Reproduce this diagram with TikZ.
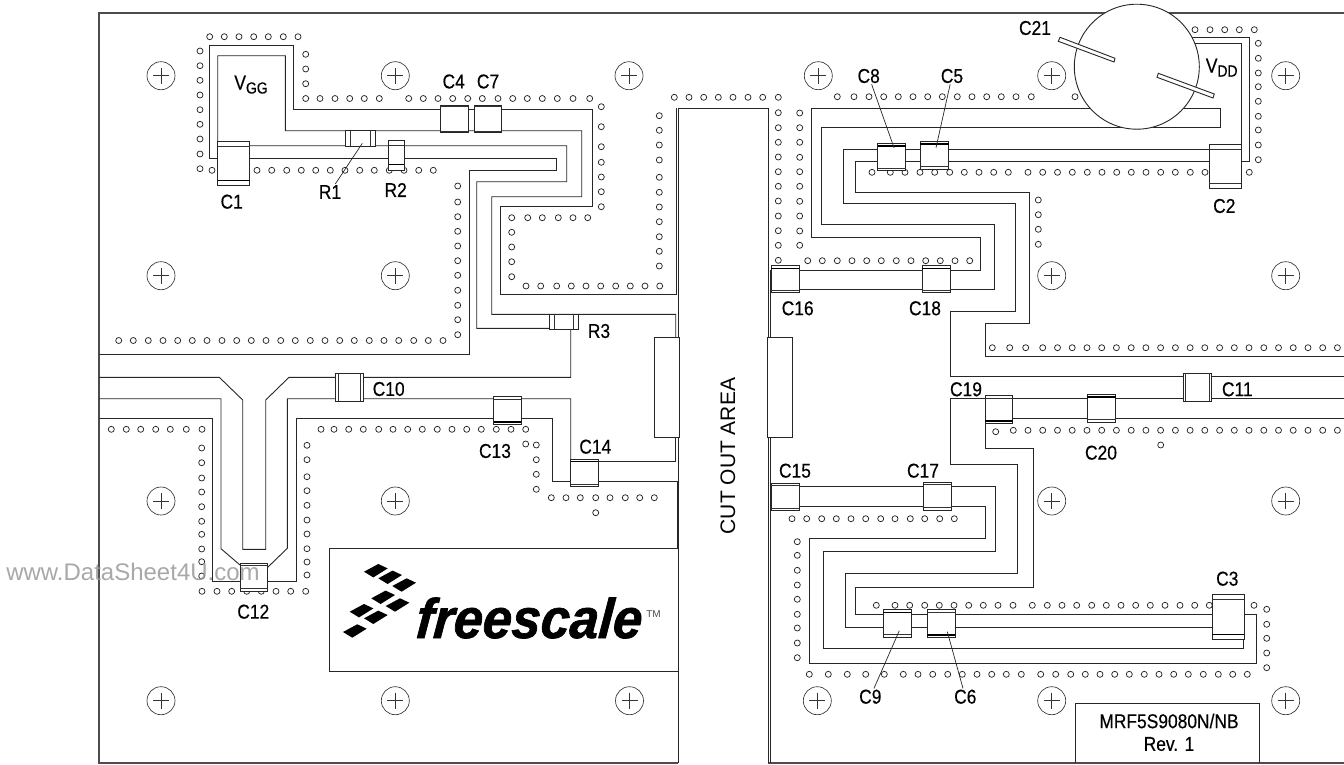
\documentclass[tikz,border=0pt]{standalone}
\usepackage{fontspec}
\setmainfont[FakeStretch=0.87,FakeBold=0.35]{Liberation Sans}
\newfontfamily\widefont{Liberation Sans}
\newfontfamily\logofont[FakeStretch=0.93,FakeBold=1.2,FakeSlant=0.08]{Liberation Sans}
\newcommand{\dotrow}[2]{\foreach \px in {#2} \draw[via] (\px,#1) circle [radius=3pt];}
\newcommand{\dotcol}[2]{\foreach \py in {#2} \draw[via] (#1,\py) circle [radius=3pt];}
\newcommand{\partv}[5]{
    \draw[part] (#1,#2) rectangle (#3,#4);
    \draw[thinbar] (#1,#2+#5) -- (#3,#2+#5);
    \draw[thickbar] (#1,#4-#5) -- (#3,#4-#5);}
\newcommand{\partw}[5]{
    \draw[part] (#1,#2) rectangle (#3,#4);
    \draw[thickbar] (#1,#2+#5) -- (#3,#2+#5);
    \draw[thinbar] (#1,#4-#5) -- (#3,#4-#5);}
\newcommand{\partt}[5]{
    \draw[part] (#1,#2) rectangle (#3,#4);
    \draw[thinbar] (#1,#2+#5) -- (#3,#2+#5);
    \draw[thinbar] (#1,#4-#5) -- (#3,#4-#5);}
\newcommand{\parth}[5]{
    \draw[part] (#1,#2) rectangle (#3,#4);
    \draw[thinbar] (#1+#5,#2) -- (#1+#5,#4);
    \draw[thinbar] (#3-#5,#2) -- (#3-#5,#4);}
\newcommand{\lowtxt}[1]{\raisebox{-4pt}{\fontsize{16}{16}\selectfont #1}}
\begin{document}
\begin{tikzpicture}[x=1pt,y=-1pt,
    trace/.style={draw=black!85,line width=0.9pt,line join=miter},
    edgeline/.style={draw=black!70,line width=1.2pt},
    via/.style={draw=black!85,line width=0.75pt},
    holeline/.style={draw=black!80,line width=0.65pt},
    part/.style={draw=black!85,fill=white,line width=0.9pt},
    thinbar/.style={draw=black!80,line width=0.8pt},
    thickbar/.style={draw=black,line width=1.4pt},
    lbl/.style={inner sep=1pt,font=\fontsize{20}{22}\selectfont}]

    \useasboundingbox (0,0) rectangle (1344,764);

    \foreach \hx/\hy in {161/75.7,395.3/75.7,629/75.7,818.3/75.7,1051.7/75.7,1285.7/75.7,
        161/275.7,395.3/275.7,1051.7/275.7,1285.7/275.7,
        161/501,395.3/501,1051.7/501,1285.7/501,
        161/700.7,395.3/700.7,629.5/700.7,817.3/700.7,1051.7/700.7,1285.7/700.7} {
        \draw[holeline] (\hx,\hy) circle [radius=14pt];
        \draw[holeline] (\hx-8,\hy) -- (\hx+8,\hy);
        \draw[holeline] (\hx,\hy-8) -- (\hx,\hy+8);
    }

    \draw[edgeline] (1344,13) -- (99,13) -- (99,763) -- (678,763);
    \draw[edgeline] (768,763) -- (1344,763);
    \draw[trace] (678,763) -- (678,108) -- (768,108) -- (768,763);
    \draw[trace] (676.2,108) -- (676.2,294);
    \draw[trace] (770.7,270) -- (770.7,763);

    \draw[trace] (677,294.3) -- (500,294.3) -- (500,206.5) -- (592.3,206.5) -- (592.3,109.5) -- (293.7,109.5) -- (293.7,45.7) -- (209.3,45.7) -- (209.3,158.3) -- (556.7,158.3) -- (556.7,170) -- (469,170) -- (469,354.3) -- (99,354.3);
    \draw[trace] (675.7,338) -- (675.7,314.3) -- (491.7,314.3) -- (491.7,196.7) -- (581.7,196.7) -- (581.7,130.7) -- (285.3,130.7) -- (285.3,55.7) -- (217.7,55.7) -- (217.7,145.7) -- (566.7,145.7) -- (566.7,181.7) -- (476.7,181.7) -- (476.7,328.3) -- (570.7,328.3) -- (570.7,377.3) -- (289,377.3) -- (265.7,400) -- (265.7,549.3) -- (242.7,549.3) -- (242.7,400) -- (219.3,377.3) -- (99,377.3);
    \draw[trace] (99,398.7) -- (221,398.7) -- (221,548.7) -- (240,565);
    \draw[trace] (267.7,567.3) -- (287.3,548.3) -- (287.3,398.7) -- (570.7,398.7) -- (570.7,462);
    \draw[trace] (99,418.7) -- (212.3,418.7) -- (212.3,581.3) -- (296.7,581.3) -- (296.7,418.5) -- (552.3,418.5) -- (552.3,481) -- (677.3,481) -- (677.3,548.7) -- (329.5,548.7) -- (329.5,671) -- (678,671);
    \draw[trace] (598,461.7) -- (675.7,461.7) -- (675.7,437);

    \draw[trace] (771,270) -- (980.7,270) -- (980.7,237.3) -- (811,237.3) -- (811,108) -- (1220,108) -- (1220,127.3) -- (821.7,127.3) -- (821.7,224.7) -- (994,224.7) -- (994,289.7) -- (771,289.7);
    \draw[trace] (1130,43.3) -- (1241.3,43.3) -- (1241.3,149) -- (843.3,149) -- (843.3,203.3) -- (1015.7,203.3) -- (1015.7,311) -- (950.7,311) -- (950.7,376.7) -- (1344,376.7);
    \draw[trace] (1130,37.3) -- (1249.3,37.3) -- (1249.3,161.7) -- (855,161.7) -- (855,192.3) -- (1029.3,192.3) -- (1029.3,323.3) -- (985,323.3) -- (985,356.3) -- (1344,356.3);
    \draw[trace] (1344,398.7) -- (950.7,398.7) -- (950.7,464.7) -- (1017.3,464.7) -- (1017.3,573) -- (845,573) -- (845,627.3) -- (1212.3,627.3);
    \draw[trace] (1344,418.3) -- (985,418.3) -- (985,448.3) -- (1033.3,448.3) -- (1033.3,587) -- (855.7,587) -- (855.7,614) -- (1256.7,614) -- (1256.7,663.3) -- (809.3,663.3) -- (809.3,538.3) -- (985,538.3) -- (985,506) -- (771,506);
    \draw[trace] (771,486.3) -- (995.7,486.3) -- (995.7,551.7) -- (823.3,551.7) -- (823.3,648) -- (1243.3,648) -- (1243.3,630);
    \draw[trace] (1075.3,763) -- (1075.3,703.3) -- (1259.3,703.3) -- (1259.3,763);

    \dotrow{36.7}{209.7,224.3,239,253.7,268.3,283.3,298}
    \dotcol{200}{51,65.7,80.3,95,109.7,124.3,139,154,168.7}
    \dotrow{170.3}{212,257,271.7,286.7,301.3,315.7,330.3,345,359.7,374.3,389.3,404,418.7,433.3}
    \dotcol{305.7}{54.3,69,83.7}
    \dotrow{98.5}{305.7,320,335,349.7,364.3,379.3,408.7,423.3,438,452.7,467.7,482.3,498,512.7,527.3,542.3,557.3,573,589.7}
    \dotcol{601.3}{106.7,126.7,146.7,162.3,177,191.7,206.7}
    \dotrow{217.7}{511.7,527.7,542.3,558.3,573,587.7}
    \dotcol{511.7}{232.3,247,261.7,276.7}
    \dotrow{286}{526,540.7,556.7,571.3,586,600.7,615.7,630.3,645,659.7}
    \dotcol{659.3}{115.7,130.3,145,160,177.3,192.3,207,221.7,236.7,251.3,266}
    \dotrow{97.3}{674.3,689,703.7,718.3,733,748,762.7,778.3}
    \dotcol{457.7}{186,202,216.7,231.3,246,260.7,275.3,290.3,305.3,319.7,334.7}
    \dotrow{340.5}{118.7,133.3,148.3,163,177.7,192.3,207,222,236.7,251.3,266,280.7,295.3,310.3,325,339.7,354.3,369.3,384,398.7,413.7,428.3,443}
    \dotrow{429.3}{111.3,126.3,140.7,155.7,170.3,186.3,202,321,334,348.7,363.3,378.7,393,407.7,422.3,437.3,452,466.7,481.3,496.3,511,525.7}
    \dotcol{201.7}{448,462.7,478,492,506.7,521.3,534.3,549,561.7,576}
    \dotrow{591.3}{202,217,231.7,246.7,261.3,276,290.7,305.7}
    \dotcol{307}{445.3,459.7,476.7,490.7,505.3,520,534,548.7,562,575}
    \dotcol{536.3}{445,459.7,474.3,489.3}
    \draw[via] (525.7,444) circle [radius=3pt];
    \dotrow{497.7}{551.3,566,580.3,595.7,610,625.3,639.7,654.3}
    \draw[via] (595.7,512.7) circle [radius=3pt];

    \dotcol{778.3}{112.7,127.7,142.3,157,171.7,186.3,201,216,230.7,245.3,260.3}
    \dotcol{799.7}{113,127.7,142.3,157.3,171.7,186.3,201.3,216,231,245.3}
    \dotrow{260.7}{807.7,822.3,837.3,852,866.7,881.3,896.3,911,925.7,940.3,955,969.7}
    \dotrow{96.7}{837.3,854,869,883.7,898.3,913,927.7,942.3,957.3,972,986.7,1001.3,1016,1031.3}
    \dotrow{172.3}{872,890.3,905,920,934.7,949.7,964.3,979,993.7,1008.3,1028,1042.7,1057.5,1072.3,1087.3,1102,1116.7,1131.3,1146,1160.7,1175.3,1190.3,1205,1249.3}
    \dotcol{1038.3}{200,214.7,229.3,244.3}
    \dotrow{29.7}{1195,1210,1224.7,1239.3,1254.3}
    \dotcol{1258.3}{43.3,58.3,73,86.7,101.3,116.3,130,145,159.7}
    \draw[via] (1075,96.7) circle [radius=3pt];

    \dotrow{347.7}{992.3,1009.7,1025.7,1042.7,1057.5,1072.2,1087,1101.7,1116.4,1131.2,1145.9,1160.6,1175.4,1190.1,1204.8,1219.6,1234.3,1249,1263.8,1278.5,1293.2,1308,1322.7,1337.4}
    \dotrow{430.3}{1013.3,1028,1042.7,1057.5,1072.2,1087,1101.7,1116.4,1131.2,1145.9,1160.6,1175.4,1190.1,1204.8,1219.6,1234.3,1249,1263.8,1278.5,1293.2,1308,1322.7,1337.4}
    \draw[via] (995.7,431.7) circle [radius=3pt];
    \draw[via] (1160.7,445) circle [radius=3pt];

    \dotrow{518.7}{792,806.7,821.7,836.3,851,865.7,880.7,895,910.3,924.7,939.7,954.3}
    \dotcol{797.3}{541.7,555.3,570.3,585,599.3,614.3,628,643,657.7}
    \dotrow{674.3}{809.3,828.3,847.3,865.7,884.3,903.3,918,932.7,947.7,962.3,977,991.7,1006.3,1021.3,1040.7,1055.7,1070.7,1085.3,1100,1114.7,1129.3,1144.3,1159,1173.7,1188.3,1203.3,1218.3,1232.7,1247.3}
    \dotrow{605.3}{876.3,895,909.7,924.7,939.3,954,968.7,983.3,998,1013,1032.3,1047.3,1062,1076.7,1091.7,1106.3,1121,1135.7,1150.3,1165,1180,1194.7,1209.3,1254}
    \dotcol{1266.7}{609.3,624.3,638.3,653,667.7}

    \partv{217.7}{141.3}{249.7}{185.7}{5}
    \partt{1209.3}{144}{1241}{188.3}{5}
    \partv{1212.3}{594.3}{1244}{639.3}{5}
    \partv{388.7}{140.3}{404}{170}{5.5}
    \partt{440.3}{105.3}{468.3}{132.7}{1.5}
    \partt{474}{105.3}{501.7}{132.7}{1.5}
    \partw{877.7}{143.3}{905.7}{170.7}{2.5}
    \partw{920.3}{141.3}{948.7}{169}{2.5}
    \partw{883.3}{609.7}{911.3}{637}{2.5}
    \partv{927}{609.7}{955}{637.3}{2.5}
    \partw{771.3}{265.7}{799}{292.7}{2.5}
    \partw{922.3}{265.7}{950}{292.7}{2.5}
    \partt{771}{483.3}{799}{510.7}{2.5}
    \partt{923.7}{482.3}{951.7}{510}{2.5}
    \partv{985}{395.7}{1012.7}{423.3}{2.5}
    \partw{1087.3}{394.3}{1115.7}{422.3}{2.5}
    \partv{493.7}{396.7}{521}{424.3}{2.5}
    \partw{570.7}{459}{598}{486.7}{2.5}
    \partt{240}{563.3}{267.7}{591}{2.5}
    \parth{335.7}{373.3}{363.3}{401}{2.5}
    \parth{1183.3}{373.3}{1211.7}{401}{2.5}
    \parth{345.7}{130.7}{375}{146}{5}
    \parth{549.3}{314.3}{578.3}{329}{5}
    \draw[part] (654,337.7) rectangle (679,437.3);
    \draw[part] (767.3,337.3) rectangle (792.7,437.3);

    \draw[part] (1136.8,66.7) circle [radius=62.5pt];
    \draw[part] (1060,37.3) -- (1115,58.3) -- (1114,62) -- (1058.3,41.3) -- cycle;
    \draw[part] (1158.3,73.3) -- (1214.3,94) -- (1213,98) -- (1157,77.3) -- cycle;

    \foreach \mx/\my in {376/570.7,390.3/577.3,404.3/585,383.3/597.3,397.7/605,361.7/610.7,376/617.3,355/631}
        \fill (\mx-12,\my+1) -- (\mx+2.3,\my-6.7) -- (\mx+11.7,\my-2.3) -- (\mx-2.7,\my+6.7) -- cycle;
    \node[anchor=base west,inner sep=0pt,font=\logofont\bfseries\itshape\fontsize{56}{58}\selectfont] (logo) at (415,638) {freescale};
    \node[inner sep=0pt,text=black!70,font=\widefont\fontsize{10}{11}\selectfont] (tm) at (653.5,614) {TM};

    \node[lbl] (lC1) at (231.7,201.7) {C1};
    \node[lbl] (lC2) at (1224.3,206) {C2};
    \node[lbl] (lC3) at (1227.3,578.7) {C3};
    \node[lbl] (lC4) at (453.7,81.5) {C4};
    \node[lbl] (lC5) at (952,76) {C5};
    \node[lbl] (lC6) at (965.3,696.7) {C6};
    \node[lbl] (lC7) at (488,81.5) {C7};
    \node[lbl] (lC8) at (868.7,76) {C8};
    \node[lbl] (lC9) at (870.3,696.7) {C9};
    \node[lbl] (lC10) at (388.7,389) {C10};
    \node[lbl] (lC11) at (1237.3,389.3) {C11};
    \node[lbl] (lC12) at (253.3,611.7) {C12};
    \node[lbl] (lC13) at (495,451) {C13};
    \node[lbl] (lC14) at (595.3,446.7) {C14};
    \node[lbl] (lC15) at (795,470.7) {C15};
    \node[lbl] (lC16) at (797.7,308.3) {C16};
    \node[lbl] (lC17) at (923,470.7) {C17};
    \node[lbl] (lC18) at (925,308.3) {C18};
    \node[lbl] (lC19) at (966,389.3) {C19};
    \node[lbl] (lC20) at (1101,452.7) {C20};
    \node[lbl] (lC21) at (1035,28) {C21};
    \node[lbl] (lR1) at (330,192) {R1};
    \node[lbl] (lR2) at (395.7,190) {R2};
    \node[lbl] (lR3) at (599,331) {R3};
    \node[lbl,anchor=base] (vgg) at (251,89.5) {V\lowtxt{GG}};
    \node[lbl,anchor=base] (vdd) at (1221.7,72.5) {V\lowtxt{DD}};
    \node[lbl] (model) at (1169,721) {MRF5S9080N/NB};
    \node[lbl] (rev) at (1169,744) {Rev. 1};
    \node[lbl,rotate=90,font=\widefont\fontsize{21}{23}\selectfont] (cutout) at (728,456) {CUT OUT AREA};

    \coordinate (pR1) at (362.3,143.3);
    \coordinate (pC5) at (936,147.7);
    \coordinate (pC6) at (947.3,631.7);
    \coordinate (pC8) at (894,147.7);
    \coordinate (pC9) at (899.3,630.7);
    \draw[trace,line width=0.7pt] (lR1) -- (pR1);
    \draw[trace,line width=0.7pt] (lC5) -- (pC5);
    \draw[trace,line width=0.7pt] (lC6) -- (pC6);
    \draw[trace,line width=0.7pt] (lC8) -- (pC8);
    \draw[trace,line width=0.7pt] (lC9) -- (pC9);

    \node[inner sep=0pt,text=black!40,font=\widefont\fontsize{24}{26}\selectfont,opacity=0.85] (mark) at (133,571.5) {www.DataSheet4U.com};
\end{tikzpicture}
\end{document}
